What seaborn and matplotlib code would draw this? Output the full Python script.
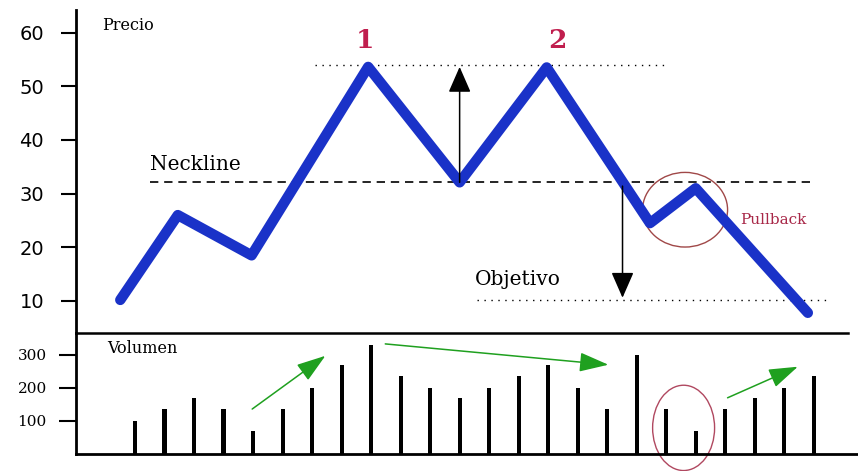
import matplotlib
matplotlib.use("Agg")
import matplotlib.pyplot as plt
from matplotlib.patches import Ellipse
import seaborn as sns

# price path (x in volume-bar units)
price_x = [0.5, 2.45, 4.95, 8.9, 12.0, 14.95, 18.45, 20.0, 23.8]
price_y = [10.2, 26.0, 18.5, 53.6, 32.1, 53.5, 24.5, 31.0, 7.8]
price_ticks = [10, 20, 30, 40, 50, 60]

# volume bars
vol_x = [1, 2, 3, 4, 5, 6, 7, 8, 9, 10, 11, 12,
         13, 14, 15, 16, 17, 18, 19, 20, 21, 22, 23, 24]
vol_y = [100, 135, 170, 135, 70, 135, 200, 270, 330, 235, 200, 170,
         200, 235, 270, 200, 135, 300, 135, 70, 135, 170, 200, 235]
vol_ticks = [100, 200, 300]

neckline = 32.1
top_level = 54.0
target_level = 10.1

BLUE = "#1a32c8"
RED = "#c01e4e"
GREEN = "#1fa01f"

sns.set_style("white")
plt.rcParams["font.family"] = ["DejaVu Sans"]
plt.rcParams["text.color"] = "black"

fig = plt.figure(figsize=(8.58, 4.71), dpi=100)
ax_v = fig.add_axes([0.0886, 0.0361, 0.9114, 0.2569])
ax_p = fig.add_axes([0.0886, 0.2930, 0.9114, 0.6858])
ax_p.patch.set_alpha(0)

# --- price panel ---
ax_p.hlines(neckline, 1.5, 24.0, colors="black", lw=1.2, linestyles=(0, (5, 3.5)))
ax_p.hlines(top_level, 7.1, 19.05, colors="black", lw=1.0, linestyles=(0, (1, 4)))
ax_p.hlines(target_level, 12.6, 24.6, colors="black", lw=1.0, linestyles=(0, (1, 4)))

ax_p.add_patch(Ellipse((19.64, 27.0), 2.88, 13.9, fill=False,
                       edgecolor="#a04848", lw=1.0, zorder=1))

sns.lineplot(x=price_x, y=price_y, ax=ax_p, color=BLUE, linewidth=7.5,
             sort=False, legend=False, zorder=3)

black_head = "-|>,head_length=1.6,head_width=0.7"
ax_p.annotate("", xy=(12.0, 53.6), xytext=(12.0, 32.1),
              arrowprops=dict(arrowstyle=black_head, color="black", lw=1.1,
                              mutation_scale=10, shrinkA=0, shrinkB=0), zorder=4)
ax_p.annotate("", xy=(17.52, 10.6), xytext=(17.52, 31.4),
              arrowprops=dict(arrowstyle=black_head, color="black", lw=1.1,
                              mutation_scale=10, shrinkA=0, shrinkB=0), zorder=4)

ax_p.text(8.8, 56.2, "1", color=RED, fontsize=19, fontweight="bold",
          family="DejaVu Serif", ha="center", va="bottom")
ax_p.text(15.3, 56.2, "2", color=RED, fontsize=19, fontweight="bold",
          family="DejaVu Serif", ha="center", va="bottom")
ax_p.text(1.5, 34.4, "Neckline", fontsize=14.5, family="DejaVu Serif",
          ha="left", va="baseline")
ax_p.text(12.5, 13.0, "Objetivo", fontsize=14.5, family="DejaVu Serif",
          ha="left", va="baseline")
ax_p.text(21.5, 25.1, "Pullback", color="#a82848", fontsize=11,
          family="DejaVu Serif", ha="left", va="center")
ax_p.text(-0.1, 61.3, "Precio", fontsize=11.5, family="DejaVu Serif",
          ha="left", va="center")

ax_p.set_xlim(-1.0, 25.5)
ax_p.set_ylim(4.04, 64.2)
ax_p.set_xticks([])
ax_p.set_yticks(price_ticks)
ax_p.set_yticklabels([str(t) for t in price_ticks], fontsize=14)
ax_p.tick_params(axis="y", direction="out", length=11, width=1.5,
                 pad=12, left=True, colors="black")
for side in ["top", "right"]:
    ax_p.spines[side].set_visible(False)
ax_p.spines["left"].set_linewidth(2)
ax_p.spines["left"].set_color("black")
ax_p.spines["bottom"].set_linewidth(1.8)
ax_p.spines["bottom"].set_color("black")
ax_p.spines["bottom"].set_bounds(-1.0, 25.15)
ax_p.set_xlabel("")
ax_p.set_ylabel("")

# --- volume panel ---
sns.barplot(x=vol_x, y=vol_y, ax=ax_v, color="black", saturation=1,
            width=0.14, native_scale=True, errorbar=None, orient="x",
            linewidth=0)

green_head = "-|>,head_length=1.8,head_width=0.6"
for start, end in [((4.97, 136), (7.45, 297)),
                   ((9.48, 333), (17.04, 270)),
                   ((21.08, 170), (23.46, 264))]:
    ax_v.annotate("", xy=end, xytext=start,
                  arrowprops=dict(arrowstyle=green_head, color=GREEN, lw=1.1,
                                  mutation_scale=10, shrinkA=0, shrinkB=0))

ax_v.add_patch(Ellipse((19.59, 79), 2.1, 258, fill=False, edgecolor="#b04860",
                       lw=1.0, clip_on=False))

ax_v.text(0.05, 318, "Volumen", fontsize=11.5, family="DejaVu Serif",
          ha="left", va="center")

ax_v.set_xlim(-1.0, 25.5)
ax_v.set_ylim(0, 366)
ax_v.set_xticks([])
ax_v.set_yticks(vol_ticks)
ax_v.set_yticklabels([str(t) for t in vol_ticks], fontsize=11,
                     family="DejaVu Serif")
ax_v.tick_params(axis="y", direction="out", length=12, width=1.5,
                 pad=9, left=True, colors="black")
for side in ["top", "right"]:
    ax_v.spines[side].set_visible(False)
ax_v.spines["left"].set_linewidth(2)
ax_v.spines["left"].set_color("black")
ax_v.spines["bottom"].set_linewidth(2)
ax_v.spines["bottom"].set_color("black")
ax_v.set_xlabel("")
ax_v.set_ylabel("")

fig.savefig("out.png", dpi=100)
